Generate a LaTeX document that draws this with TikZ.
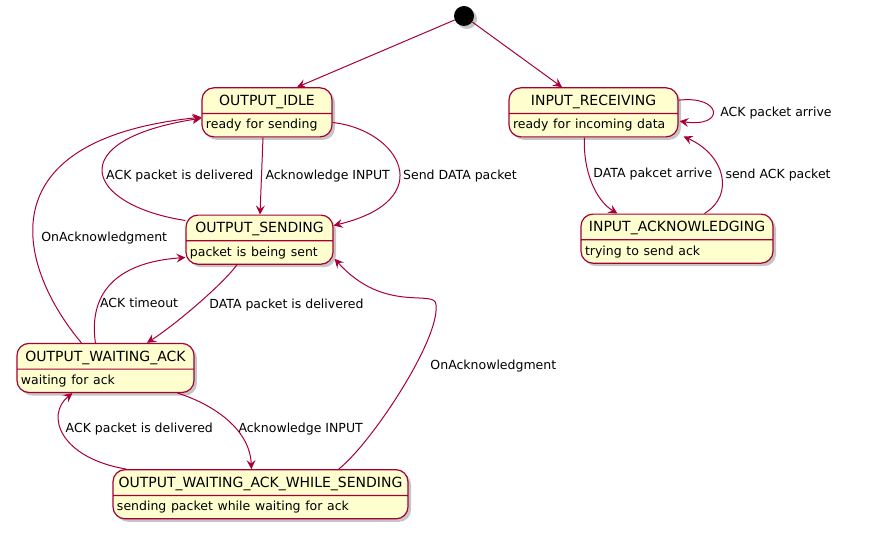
\documentclass[tikz,border=0pt]{standalone}
\usepackage{fontspec}
\setmainfont{DejaVu Sans}
\usepackage{tikz}
\usetikzlibrary{positioning}
\usetikzlibrary{calc,shapes.multipart,arrows.meta,shadows}
\definecolor{umlred}{HTML}{A80036}
\definecolor{umlfill}{HTML}{FEFECE}
\newcommand{\sname}[1]{\noindent\hbox to\hsize{\hfil\rule[-7.5bp]{0pt}{24.5bp}#1\hfil}}
\newcommand{\sdesc}[1]{\noindent\hbox to\hsize{\fontsize{12.5bp}{15bp}\selectfont\rule[-7.5bp]{0pt}{22.2bp}#1\hfil}}

\begin{document}
\begin{tikzpicture}[x=1bp, y=-1bp,
    state/.style = {draw=umlred, fill=umlfill, line width=1.2bp, rounded corners=12bp,
        rectangle split, rectangle split parts=2, inner xsep=4bp, inner ysep=0bp,
        font=\fontsize{14bp}{17bp}\selectfont,
        drop shadow={shadow xshift=3bp, shadow yshift=-3bp, fill=black!45, opacity=.5}},
    dot/.style = {circle, fill=black, minimum size=20bp, inner sep=0bp,
        drop shadow={shadow xshift=3bp, shadow yshift=-3bp, fill=black!45, opacity=.5}},
    trans/.style = {draw=umlred, line width=1bp, -{Stealth[length=9bp, width=9bp, inset=3.5bp]}},
    lbl/.style = {font=\fontsize{12.5bp}{15bp}\selectfont, inner sep=0bp, anchor=west}]
    \useasboundingbox (0,0) rectangle (896,551);

    \node[dot] (init) at (464,16) {};
    \node[state, text width=122bp, below=61bp of init, xshift=-197bp] (idle)
        {\sname{OUTPUT\_IDLE}\nodepart{two}\sdesc{ready for sending}};
    \node[state, text width=161bp, below=61bp of init, xshift=129.5bp] (inrecv)
        {\sname{INPUT\_RECEIVING}\nodepart{two}\sdesc{ready for incoming data}};
    \node[state, text width=139bp, below=77bp of idle, xshift=-7.5bp] (sending)
        {\sname{OUTPUT\_SENDING}\nodepart{two}\sdesc{packet is being sent}};
    \node[state, text width=169bp, below=78bp of sending, xshift=-154bp] (waitack)
        {\sname{OUTPUT\_WAITING\_ACK}\nodepart{two}\sdesc{waiting for ack}};
    \node[state, text width=287bp, below=76bp of waitack, xshift=155bp] (while)
        {\sname{OUTPUT\_WAITING\_ACK\_WHILE\_SENDING}\nodepart{two}\sdesc{sending packet while waiting for ack}};
    \node[state, text width=184bp, below=76bp of inrecv, xshift=83.5bp] (inack)
        {\sname{INPUT\_ACKNOWLEDGING}\nodepart{two}\sdesc{trying to send ack}};

    % start
    \draw[trans] (init) -- ($(idle.north)+(30,0)$);
    \draw[trans] (init) -- ($(inrecv.north)+(-31.5,0)$);

    % output side
    \draw[trans] ($(idle.south)+(-4,0)$) -- node[lbl, xshift=3.5bp] (ackin1) {Acknowledge INPUT} ($(sending.north)+(0.5,0)$);
    \draw[trans] ($(idle.south east)+(0,-15)$) .. controls (400,130) and (440,200) ..
        node[lbl, pos=0.55, xshift=3.5bp, yshift=-2.5bp] (senddata) {Send DATA packet} ($(sending.north east)+(0,11)$);
    \draw[trans] ($(sending.north west)+(0,6)$) .. controls (85,205) and (60,140) ..
        node[lbl, pos=0.5, xshift=3bp, yshift=-4bp] (ackdel1) {ACK packet is delivered} ($(idle.north west)+(0,31)$);
    \draw[trans] ($(waitack.north west)+(65,0)$) .. controls (20,270) and (-20,140) ..
        node[lbl, pos=0.4, xshift=7.5bp] (onack1) {OnAcknowledgment} ($(idle.north west)+(0,30)$);
    \draw[trans] ($(waitack.north west)+(79,0)$) .. controls (88,290) and (120,262) ..
        node[lbl, pos=0.25, xshift=2.5bp, yshift=5bp] (acktime) {ACK timeout} ($(sending.north west)+(0,43)$);
    \draw[trans] ($(sending.south)+(-22.5,0)$) .. controls (222,285) and (175,325) ..
        node[lbl, pos=0.5, xshift=12bp] (datadel) {DATA packet is delivered} ($(waitack.north)+(41.5,0)$);
    \draw[trans] ($(waitack.south east)+(-17,0)$) .. controls (215,405) and (250,430) ..
        node[lbl, pos=0.5, xshift=10bp, yshift=-8bp] (ackin2) {Acknowledge INPUT} ($(while.north west)+(139,0)$);
    \draw[trans] ($(while.north west)+(14,0)$) .. controls (60,458) and (45,415) ..
        node[lbl, pos=0.5, xshift=1bp, yshift=6bp] (ackdel2) {ACK packet is delivered} ($(waitack.south west)+(56,0)$);
    \draw[trans] ($(while.north east)+(-70,0)$) .. controls (370,445) and (440,340) .. (436,305)
        node[lbl, pos=0.6, xshift=17.5bp, yshift=5bp] (onack2) {OnAcknowledgment}
        .. controls (436,288) and (385,315) .. ($(sending.south east)+(1,-6)$);

    % input side
    \draw[trans] ($(inrecv.south west)+(76,0)$) .. controls (583,170) and (595,200) ..
        node[lbl, pos=0.4, xshift=4bp] (dataarr) {DATA pakcet arrive} ($(inack.north west)+(37,0)$);
    \draw[trans] ($(inack.north west)+(124,0)$) .. controls (735,195) and (725,155) ..
        node[lbl, pos=0.5, xshift=4bp] (sendack) {send ACK packet} ($(inrecv.south east)+(5,-1)$);
    \draw[trans] ($(inrecv.north east)+(0,13)$) .. controls (722,95) and (726,128) ..
        node[lbl, pos=0.5, xshift=7bp, yshift=-2bp] (ackarr) {ACK packet arrive} ($(inrecv.north east)+(1,34)$);
\end{tikzpicture}
\end{document}
